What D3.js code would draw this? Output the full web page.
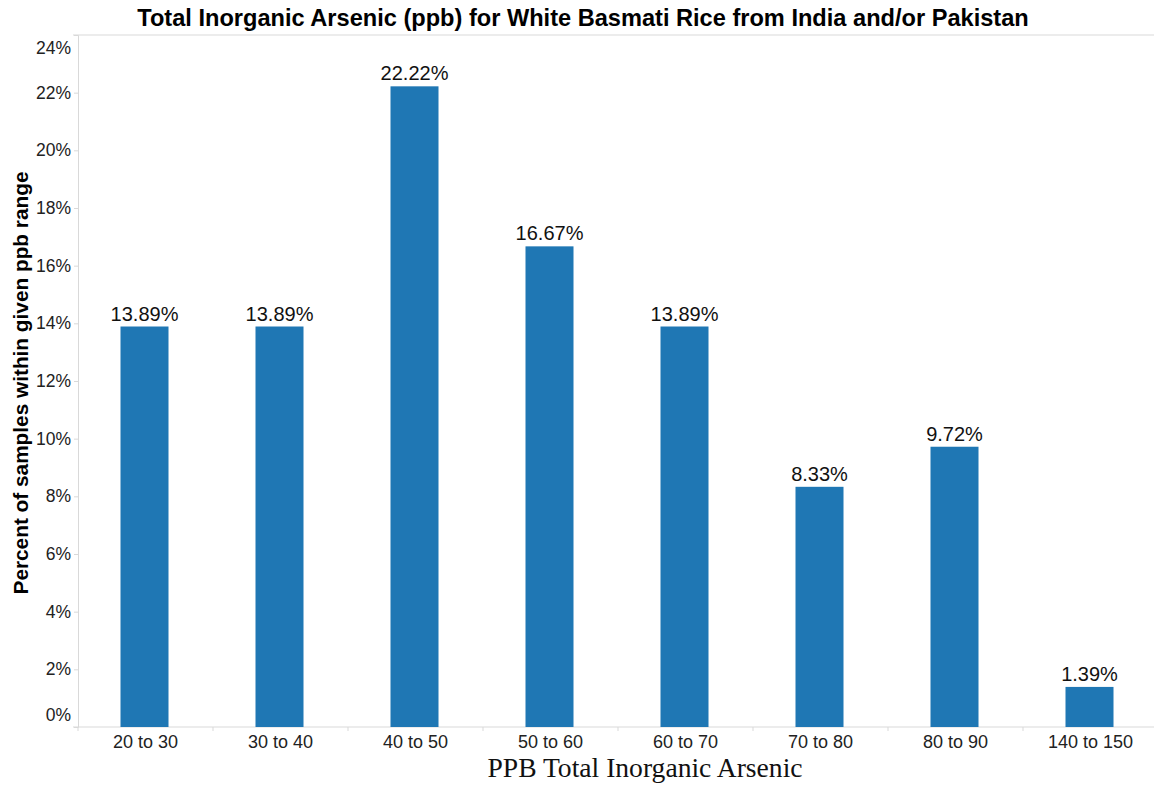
<!DOCTYPE html>
<html>
<head>
<meta charset="utf-8">
<script src="https://cdn.jsdelivr.net/npm/d3@7"></script>
<style>
  body { margin: 0; background: #fff; }
  svg { display: block; }
</style>
</head>
<body>
<svg class="chart" width="1154" height="785"></svg>
<script>
// data
var categories = ["20 to 30", "30 to 40", "40 to 50", "50 to 60", "60 to 70", "70 to 80", "80 to 90", "140 to 150"];
var percents = [13.89, 13.89, 22.22, 16.67, 13.89, 8.33, 9.72, 1.39];
var yTicks = [0, 2, 4, 6, 8, 10, 12, 14, 16, 18, 20, 22, 24];

(function() {
var svg = d3.select(".chart"),
    width = +svg.attr("width"),
    height = +svg.attr("height");

var mLeft = 78, mTop = 35, mBottom = 727, mRight = 1158;
var axisColor = "#d9d9d9";
var barColor = "#1f77b4";

var x = d3.scaleBand()
    .domain(categories)
    .range([mLeft, mRight])
    .paddingInner(0)
    .paddingOuter(0);

var y = d3.scaleLinear()
    .domain([0, 24])
    .range([mBottom, mTop]);

// title
svg.append("text")
    .attr("x", 583)
    .attr("y", 26)
    .attr("text-anchor", "middle")
    .style("font-family", "Liberation Sans, Arial")
    .style("font-weight", "bold")
    .style("font-size", "23.6px")
    .text("Total Inorganic Arsenic (ppb) for White Basmati Rice from India and/or Pakistan");

// frame line on top
svg.append("line")
    .attr("x1", mLeft - 5).attr("x2", width)
    .attr("y1", mTop).attr("y2", mTop)
    .attr("stroke", axisColor);

// y axis
var yAxis = svg.append("g")
    .attr("transform", "translate(" + mLeft + ",0)")
    .call(d3.axisLeft(y).tickValues(yTicks).tickSize(4).tickPadding(3)
        .tickFormat(function(d) { return d + "%"; }));
yAxis.select(".domain").attr("stroke", axisColor);
yAxis.selectAll(".tick line").attr("stroke", axisColor);
yAxis.selectAll(".tick text")
    .style("font-family", "Liberation Sans, Arial")
    .style("font-size", "17.5px")
    .attr("fill", "#222")
    .attr("dy", function(d) {
        if (d === 0) return "-0.35em";
        if (d === 24) return "1.05em";
        return "0.32em";
    });

// x axis
var xAxis = svg.append("g")
    .attr("transform", "translate(0," + mBottom + ")")
    .call(d3.axisBottom(x).tickSize(0).tickPadding(8));
xAxis.select(".domain").remove();
xAxis.append("line")
    .attr("x1", mLeft - 5).attr("x2", width)
    .attr("y1", 0).attr("y2", 0)
    .attr("stroke", axisColor);
xAxis.selectAll(".sep")
    .data(categories)
    .enter().append("line")
    .attr("x1", function(d) { return x(d); })
    .attr("x2", function(d) { return x(d); })
    .attr("y1", 0).attr("y2", 4)
    .attr("stroke", axisColor);
xAxis.selectAll(".tick text")
    .style("font-family", "Liberation Sans, Arial")
    .style("font-size", "18px")
    .attr("fill", "#222");

// bars
var barW = 48;
svg.selectAll(".bar")
    .data(percents)
    .enter().append("rect")
    .attr("class", "bar")
    .attr("x", function(d, i) { return x(categories[i]) + x.bandwidth() / 2 - barW / 2 - 1; })
    .attr("y", function(d) { return y(d); })
    .attr("width", barW)
    .attr("height", function(d) { return mBottom - y(d); })
    .attr("fill", barColor);

// value labels
svg.selectAll(".val")
    .data(percents)
    .enter().append("text")
    .attr("x", function(d, i) { return x(categories[i]) + x.bandwidth() / 2 - 1; })
    .attr("y", function(d) { return y(d) - 6; })
    .attr("text-anchor", "middle")
    .style("font-family", "Liberation Sans, Arial")
    .style("font-size", "20px")
    .attr("fill", "#111")
    .text(function(d) { return d.toFixed(2) + "%"; });

// axis titles
svg.append("text")
    .attr("transform", "translate(28,383) rotate(-90)")
    .attr("text-anchor", "middle")
    .style("font-family", "Liberation Sans, Arial")
    .style("font-weight", "bold")
    .style("font-size", "20.8px")
    .text("Percent of samples within given ppb range");

svg.append("text")
    .attr("x", 645)
    .attr("y", 777)
    .attr("text-anchor", "middle")
    .style("font-family", "Liberation Serif, serif")
    .style("font-size", "27.6px")
    .attr("fill", "#111")
    .text("PPB Total Inorganic Arsenic");
})();
</script>
</body>
</html>
